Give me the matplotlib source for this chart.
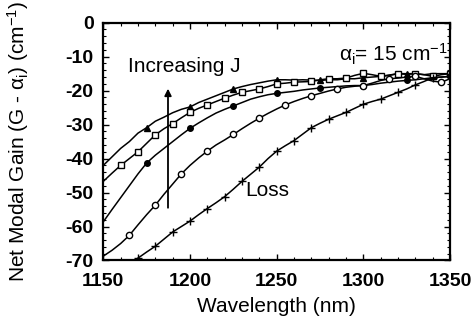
import numpy as np
import matplotlib
matplotlib.use("Agg")
import matplotlib.pyplot as plt

plt.rcParams['font.family'] = ['Liberation Sans', 'DejaVu Sans']
plt.rcParams['mathtext.fontset'] = 'custom'
plt.rcParams['mathtext.rm'] = 'Liberation Sans'
plt.rcParams['mathtext.it'] = 'Liberation Sans'
plt.rcParams['axes.unicode_minus'] = False

# wavelength grid (nm) shared by the gain curves
wavelength = np.arange(1150, 1351, 5)

gain_j5 = [-42, -39.5, -37, -35, -32.5, -30.9, -29, -27.8, -26.5, -25.5,
           -24.8, -23.5, -22.5, -21.5, -20.5, -19.5, -18.8, -18.2, -17.7, -17.2,
           -16.8, -16.8, -16.9, -16.8, -16.9, -17, -16.8, -16.8, -16.5, -16.5,
           -16.2, -16, -15.8, -15.5, -15, -15.2, -15, -15.3, -15, -15, -15]
gain_j4 = [-46.7, -44.3, -42, -40, -38, -35.5, -33, -31.2, -29.7, -28,
           -26.4, -25.2, -24.2, -23.2, -22.2, -21.3, -20.5, -20, -19.5, -18.8,
           -18, -17.8, -17.5, -17.4, -17.3, -16.8, -16.5, -16.5, -16.3, -15.5,
           -14.9, -15.3, -15.8, -15.4, -15, -15, -15, -15.3, -15.8, -15.3, -15]
gain_j3 = [-58.6, -55, -51.5, -48, -44.5, -41.3, -39, -37, -35, -33,
           -31.1, -29.5, -28, -26.6, -25.5, -24.5, -23.5, -22.5, -21.8, -21.2,
           -20.8, -20.5, -20.2, -19.8, -19.5, -19.2, -19, -18.8, -18.6, -18.5,
           -18.5, -18.2, -17.8, -17.5, -17.2, -17, -16.8, -16.5, -16.2, -16, -15.8]
gain_j2 = [-68.7, -67, -65, -62.6, -59.5, -56.5, -53.7, -50.5, -47.5, -44.5,
           -42, -39.8, -37.8, -36, -34.5, -32.9, -31.2, -29.6, -28.1, -26.7,
           -25.4, -24.2, -23.2, -22.3, -21.5, -20.8, -20.1, -19.5, -19, -18.7,
           -18.5, -17.8, -17, -16.5, -16.3, -16, -15.8, -16.5, -17.2, -17.5, -16.5]

# loss curve only enters the window above 1160 nm
wavelength_loss = np.arange(1160, 1351, 5)
loss = [-74, -70.8, -69.3, -67.5, -65.8, -63.7, -61.6, -60, -58.4, -56.5,
        -54.7, -53, -51.2, -49, -46.7, -44.6, -42.5, -40, -37.8, -36.2,
        -34.7, -32.8, -30.9, -29.6, -28.4, -27.4, -26.4, -25.2, -24, -23.2,
        -22.5, -21.5, -20.5, -19.5, -18.3, -17.3, -16.2, -16, -15.8]

fig = plt.figure(figsize=(4.74, 3.22), dpi=100)
ax = fig.add_axes([0.218, 0.191, 0.7315, 0.7385])

lw = 1.1
ax.plot(wavelength, gain_j5, color='black', lw=lw, marker='^', ms=4.5,
        mfc='black', markevery=(5, 5))
ax.plot(wavelength, gain_j4, color='black', lw=lw, marker='s', ms=4.5,
        mfc='white', mew=1.0, markevery=(2, 2))
ax.plot(wavelength, gain_j3, color='black', lw=lw, marker='o', ms=4,
        mfc='black', markevery=(5, 5))
ax.plot(wavelength, gain_j2, color='black', lw=lw, marker='o', ms=4.5,
        mfc='white', mew=1.0, markevery=(3, 3))
ax.plot(wavelength_loss, loss, color='black', lw=lw, marker='+', ms=6,
        mew=1.0, markevery=(2, 2))

ax.set_xlim(1150, 1350)
ax.set_ylim(-70, 0)
ax.set_xticks(np.arange(1150, 1351, 50))
ax.set_yticks(np.arange(-70, 1, 10))
ax.set_xticks(np.arange(1150, 1351, 10), minor=True)
ax.set_yticks(np.arange(-70, 1, 2), minor=True)
ax.tick_params(which='both', direction='in', top=True, right=True,
               labelsize=14)
ax.tick_params(axis='x', pad=9)
ax.tick_params(axis='y', pad=7)
ax.tick_params(which='major', length=4, width=1)
ax.tick_params(which='minor', length=2.5, width=0.8)
for lab in ax.get_xticklabels() + ax.get_yticklabels():
    lab.set_fontweight('bold')
for sp in ax.spines.values():
    sp.set_linewidth(1.6)

ax.set_xlabel('Wavelength (nm)', fontsize=15)
ax.set_ylabel(r'Net Modal Gain (G - $\alpha_\mathregular{i}$) (cm$^\mathregular{-1}$)',
              fontsize=15)
ax.xaxis.set_label_coords(0.5, -0.155)
ax.yaxis.set_label_coords(-0.21, 0.5)

ax.annotate('', xy=(1187.3, -18.6), xytext=(1187.3, -55.3),
            arrowprops=dict(arrowstyle='-|>', lw=1.3, color='black',
                            mutation_scale=10))
ax.text(1164, -13, 'Increasing J', fontsize=15, ha='left', va='center')
ax.text(1232, -49.3, 'Loss', fontsize=15, ha='left', va='center')
ax.text(1348.5, -9.2, r'$\alpha_\mathregular{i}$= 15 cm$^\mathregular{-1}$',
        fontsize=15, ha='right', va='center')

fig.savefig('out.png', dpi=100, facecolor='white')
